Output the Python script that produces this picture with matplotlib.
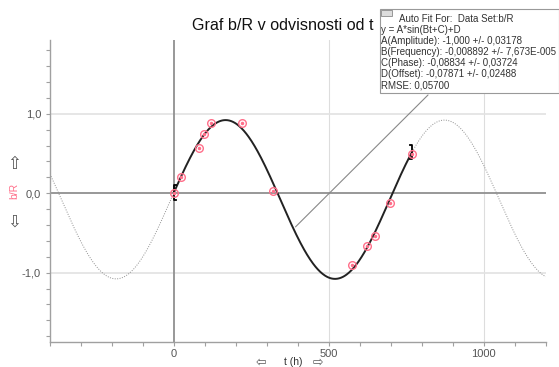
import numpy as np
import matplotlib
matplotlib.use("Agg")
import matplotlib.pyplot as plt

# measured points
t_data = [0, 23, 82, 96, 119, 219, 319, 575, 623, 648, 698, 769]
y_data = [0.0, 0.20, 0.57, 0.74, 0.89, 0.88, 0.03, -0.91, -0.66, -0.54, -0.12, 0.49]

# fit parameters y = A*sin(Bt+C)+D
A, B, C, D = -1.000, -0.008892, -0.08834, -0.07871
fit_start, fit_end = 0, 769
t_min, t_max = -400, 1200
anchor_t = 386

fit_lines = ["Auto Fit For:  Data Set:b/R",
             "y = A*sin(Bt+C)+D",
             "A(Amplitude): -1,000 +/- 0,03178",
             "B(Frequency): -0,008892 +/- 7,673E-005",
             "C(Phase): -0,08834 +/- 0,03724",
             "D(Offset): -0,07871 +/- 0,02488",
             "RMSE: 0,05700"]

def fit(t):
    return A * np.sin(B * np.asarray(t) + C) + D

plt.rcParams['font.family'] = ['Liberation Sans', 'DejaVu Sans']
fig = plt.figure(figsize=(5.59, 3.67), dpi=100)
ax = fig.add_axes([50/559, (367-341.7)/367, (545.7-50)/559, (341.7-40)/367])

grey = '#a0a0a0'
ax.set_xlim(t_min, t_max)
ax.set_ylim(-1.87, 1.93)
for s in ['top', 'right']:
    ax.spines[s].set_visible(False)
for s in ['left', 'bottom']:
    ax.spines[s].set_color(grey)
    ax.spines[s].set_linewidth(1.0)

ax.set_xticks(np.arange(-400, 1201, 100))
ax.set_xticklabels(['0' if v == 0 else ('500' if v == 500 else ('1000' if v == 1000 else '')) for v in range(-400, 1201, 100)])
yt = np.round(np.arange(-1.8, 1.81, 0.2), 1)
ax.set_yticks(yt)
ax.set_yticklabels([{1.0: '1,0', 0.0: '0,0', -1.0: '-1,0'}.get(v, '') for v in yt])
ax.tick_params(colors=grey, labelcolor='#555555', labelsize=8, length=3, width=0.8)
ax.tick_params(axis='x', pad=2)

# grid and zero axes
for v in [500, 1000]:
    ax.axvline(v, color='#dddddd', lw=0.8, zorder=0)
for v in [1.0, -1.0]:
    ax.axhline(v, color='#e2e2e2', lw=1.2, zorder=0)
ax.axhline(0, color='#909090', lw=1.3, zorder=1)
ax.axvline(0, color='#909090', lw=1.3, zorder=1)

# fit curve
tl = np.linspace(t_min, fit_start, 200)
tr = np.linspace(fit_end, t_max, 200)
tf = np.linspace(fit_start, fit_end, 400)
ax.plot(tl, fit(tl), color='#909090', lw=0.7, ls=(0, (1, 1.5)), zorder=2)
ax.plot(tr, fit(tr), color='#909090', lw=0.7, ls=(0, (1, 1.5)), zorder=2)
ax.plot(tf, fit(tf), color='#222222', lw=1.4, zorder=3)

# range brackets
for tb, side in [(fit_start, 1), (fit_end, -1)]:
    yb = fit(tb)
    ax.plot([tb + side*8, tb, tb, tb + side*8], [yb - 0.09, yb - 0.09, yb + 0.09, yb + 0.09],
            color='black', lw=1.3, zorder=4)

# data points
ax.plot(t_data, y_data, ls='none', marker='o', ms=5.5, mfc='none', mec='#ff6f8a', mew=1.0, zorder=5)
ax.plot(t_data, y_data, ls='none', marker='o', ms=1.5, mfc='#ff6f8a', mec='#ff6f8a', zorder=5)

# annotation line to box
ax.annotate('', xy=(anchor_t, fit(anchor_t)), xycoords='data',
            xytext=(430/559, 1 - 93/367), textcoords='figure fraction',
            arrowprops=dict(arrowstyle='-', color='#888888', lw=0.8),
            annotation_clip=False)

# fit info box
box = matplotlib.patches.Rectangle((380/559, 1 - 93/367), (559 - 380)/559, (93 - 9)/367,
                                   transform=fig.transFigure, fill=True, fc='white',
                                   ec='#999999', lw=0.8, zorder=10)
fig.patches.append(box)
icon = matplotlib.patches.Rectangle((381/559, 1 - 16/367), 11/559, 6/367, transform=fig.transFigure,
                                    fc='#dddddd', ec='#777777', lw=0.5, zorder=11)
fig.patches.append(icon)
for i, line in enumerate(fit_lines):
    x = 399 if i == 0 else 381
    fig.text(x/559, 1 - (19 + i*11)/367, line, fontsize=7, color='#333333', va='center', zorder=12)

fig.text(283/559, 1 - 25/367, 'Graf b/R v odvisnosti od t', fontsize=11.6, ha='center', va='center', color='#111111')

# axis labels
fig.text(14/559, 1 - 191/367, 'b/R', rotation=90, color='#ff6f8a', fontsize=7.5, ha='center', va='center')
fig.text(14/559, 1 - 164/367, '⇧', color='#555555', fontsize=12, ha='center', va='center', family='DejaVu Sans')
fig.text(14/559, 1 - 222/367, '⇩', color='#555555', fontsize=12, ha='center', va='center', family='DejaVu Sans')
fig.text(293/559, 1 - 362/367, 't (h)', color='#333333', fontsize=7.5, ha='center', va='center')
fig.text(261/559, 1 - 362/367, '⇦', color='#555555', fontsize=9, ha='center', va='center', family='DejaVu Sans')
fig.text(318/559, 1 - 362/367, '⇨', color='#555555', fontsize=9, ha='center', va='center', family='DejaVu Sans')

fig.savefig('out.png', dpi=100)
